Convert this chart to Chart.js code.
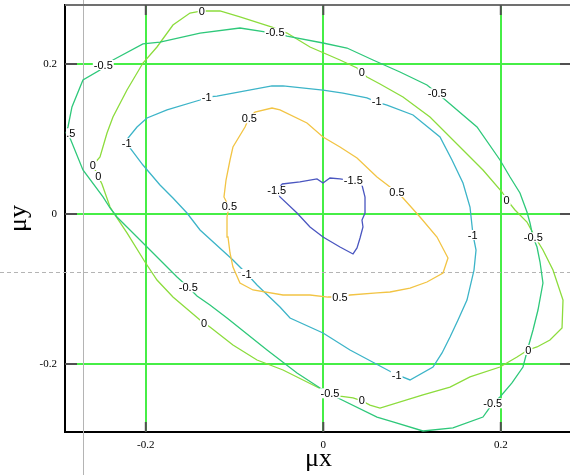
<!DOCTYPE html>
<html><head><meta charset="utf-8">
<style>
html,body{margin:0;padding:0;background:#fff;width:570px;height:475px;overflow:hidden}
#wrap{position:relative;width:574px;height:475px}
canvas{display:block}
</style>
<script src="https://cdn.jsdelivr.net/npm/chart.js@4.4.0/dist/chart.umd.min.js"></script>
</head><body><div id="wrap"><canvas id="c" width="574" height="475"></canvas></div>
<script>
// ---- tick values / labels ----
const xTicks = [-0.2, 0, 0.2];
const xTickLabels = ['-0.2', '0', '0.2'];
const yTicks = [-0.2, 0, 0.2];
const yTickLabels = ['-0.2', '0', '0.2'];
const xTitle = 'μx';
const yTitle = 'μy';

// ---- contour levels ----
const levels = ['-1.5', '0.5', '-1', '-0.5', '0'];

// level -1.5
const cM15X = [-0.0465,-0.0263,-0.0071,-0.0003,0.0075,0.0188,0.0335,0.0436,0.047,0.047,0.0436,0.0447,0.0414,0.038,0.0335,0.0188,-0.0003,-0.015,-0.0296,-0.0488,-0.0522,-0.0465];
const cM15Y = [0.040,0.0427,0.0467,0.0413,0.048,0.0467,0.044,0.0387,0.0227,0.0013,-0.008,-0.0173,-0.032,-0.0453,-0.0533,-0.044,-0.0307,-0.0173,0.0013,0.0227,0.0307,0.040];
// level 0.5
const c05X = [-0.0837,-0.077,-0.0578,-0.0488,-0.0184,-0.0003,0.0188,0.038,0.0605,0.0752,0.083,0.0898,0.109,0.1281,0.1405,0.1349,0.1168,0.0977,0.0752,0.0605,0.0301,0.0188,0.0053,-0.015,-0.0454,-0.0792,-0.0939,-0.1018,-0.1051,-0.1074,-0.1085,-0.1063,-0.1119,-0.1096,-0.1051,-0.1018,-0.0882,-0.0837];
const c05Y = [0.128,0.136,0.1413,0.1387,0.1213,0.1027,0.0893,0.0747,0.0493,0.036,0.0293,0.0213,-0.004,-0.0307,-0.0587,-0.0787,-0.0907,-0.0987,-0.104,-0.1053,-0.108,-0.1107,-0.1107,-0.108,-0.108,-0.1013,-0.092,-0.0707,-0.052,-0.0307,-0.004,0.0093,0.0227,0.0453,0.072,0.0893,0.116,0.128];
// level -1
const cM1X = [-0.131,-0.1198,-0.0578,-0.0454,-0.0003,0.0222,0.0492,0.0605,0.0718,0.1011,0.1315,0.145,0.1574,0.1653,0.1687,0.1721,0.1698,0.1619,0.1518,0.1428,0.1338,0.1236,0.0977,0.0808,0.0301,-0.0003,-0.0375,-0.0488,-0.0747,-0.086,-0.1018,-0.1389,-0.1536,-0.1694,-0.184,-0.2032,-0.2178,-0.2212,-0.22,-0.2099,-0.1986,-0.1761,-0.1389,-0.131];
const cM1Y = [0.156,0.1573,0.1707,0.1707,0.1653,0.1613,0.1547,0.1493,0.1453,0.132,0.1027,0.072,0.0413,0.0093,-0.028,-0.048,-0.0747,-0.1147,-0.1413,-0.164,-0.1853,-0.204,-0.2213,-0.2133,-0.1813,-0.1587,-0.1387,-0.124,-0.0947,-0.08,-0.0613,-0.0213,0.0013,0.0213,0.0387,0.0653,0.088,0.0947,0.1013,0.116,0.128,0.1387,0.152,0.156];
// level -0.5
const cM05X = [-0.2899,-0.2877,-0.2832,-0.2708,-0.2516,-0.2482,-0.237,-0.2032,-0.184,-0.1389,-0.0939,-0.0657,-0.0544,-0.0409,-0.0003,0.0267,0.056,0.0864,0.1168,0.1281,0.1349,0.1732,0.1991,0.2104,0.2216,0.2295,0.2329,0.2363,0.2408,0.2442,0.2475,0.2419,0.2363,0.2306,0.225,0.2126,0.1991,0.1912,0.1799,0.1461,0.1123,0.0785,0.0605,0.0166,0.0075,-0.0037,-0.0296,-0.0634,-0.1085,-0.1277,-0.1423,-0.1524,-0.1648,-0.1986,-0.2325,-0.2403,-0.2482,-0.2708,-0.2854,-0.2899];
const cM05Y = [0.1076,0.116,0.1427,0.1787,0.192,0.1987,0.2053,0.2267,0.2293,0.2413,0.248,0.2427,0.2413,0.2373,0.228,0.2213,0.2053,0.1893,0.172,0.1613,0.1547,0.116,0.072,0.0493,0.028,0.0027,-0.012,-0.0307,-0.044,-0.064,-0.092,-0.128,-0.1547,-0.1787,-0.204,-0.2253,-0.244,-0.252,-0.2707,-0.2853,-0.2893,-0.2773,-0.2707,-0.2453,-0.2387,-0.232,-0.212,-0.1813,-0.1387,-0.1213,-0.1093,-0.0973,-0.084,-0.044,-0.004,0.008,0.0227,0.0587,0.1013,0.1076];
// level 0
const c0X = [-0.1367,-0.1164,-0.0939,-0.0578,-0.0409,-0.015,0.0188,0.038,0.0436,0.0492,0.0639,0.0898,0.1202,0.1574,0.1799,0.2014,0.207,0.216,0.2295,0.2386,0.2475,0.2588,0.2701,0.269,0.2554,0.2408,0.2306,0.2183,0.1991,0.1653,0.1428,0.1123,0.0639,0.0526,0.0436,0.0335,0.0188,0.0075,-0.0071,-0.0454,-0.0747,-0.1018,-0.1277,-0.1344,-0.1389,-0.1694,-0.1874,-0.2009,-0.2212,-0.2347,-0.2403,-0.2494,-0.2539,-0.2595,-0.2516,-0.2437,-0.237,-0.2212,-0.2032,-0.1874,-0.1694,-0.1502,-0.1367];
const c0Y = [0.2707,0.2707,0.2627,0.2493,0.2413,0.2227,0.2053,0.1947,0.188,0.1827,0.1733,0.156,0.1293,0.0853,0.0587,0.0293,0.0187,0.0053,-0.0107,-0.0307,-0.048,-0.0747,-0.1147,-0.152,-0.168,-0.1773,-0.1813,-0.1907,-0.204,-0.2173,-0.2307,-0.2413,-0.2587,-0.2547,-0.2493,-0.2453,-0.2427,-0.2387,-0.2307,-0.208,-0.1947,-0.1747,-0.1507,-0.1453,-0.1413,-0.1107,-0.088,-0.064,-0.0253,-0.0013,0.0093,0.04,0.0507,0.0653,0.076,0.108,0.1293,0.1653,0.2013,0.2227,0.252,0.268,0.2707];

// ---- contour label positions ----
const lM15X = [-0.0525, 0.0338];
const lM15Y = [0.031, 0.0444];
const l05X = [-0.0834, 0.083, 0.0188, -0.1058];
const l05Y = [0.1276, 0.0293, -0.1107, 0.0097];
const lM1X = [-0.1314, 0.0602, 0.1683, 0.0827, -0.0863, -0.2215];
const lM1Y = [0.1556, 0.1497, -0.028, -0.2147, -0.08, 0.0943];
const lM05X = [-0.2899, -0.2479, -0.0544, 0.1284, 0.2366, 0.1909, 0.0075, -0.1521];
const lM05Y = [0.1076, 0.1987, 0.2417, 0.1609, -0.0311, -0.2524, -0.2391, -0.0977];
const l0X = [-0.137, 0.0433, 0.2066, 0.2311, 0.0433, -0.1344, -0.2535, -0.2598];
const l0Y = [0.2697, 0.1884, 0.0187, -0.1813, -0.2489, -0.1457, 0.0507, 0.0653];

// ---- cursor position ----
const cursorX = -0.2708;
const cursorY = -0.0777;

const colors = ['#4a56c0', '#f2c444', '#3cb4c8', '#2ec87a', '#8cdc3c'];
const contourX = [cM15X, c05X, cM1X, cM05X, c0X];
const contourY = [cM15Y, c05Y, cM1Y, cM05Y, c0Y];
const labelX = [lM15X, l05X, lM1X, lM05X, l0X];
const labelY = [lM15Y, l05Y, lM1Y, lM05Y, l0Y];

const datasets = levels.map((lv, i) => ({
  label: lv,
  data: contourX[i].map((x, j) => ({x: x, y: contourY[i][j]})),
  showLine: true,
  borderColor: colors[i],
  backgroundColor: colors[i],
  borderWidth: 1.3,
  pointRadius: 0,
  tension: 0,
  fill: false
}));

const gridGreen = 'rgb(70,238,70)';

const decor = {
  id: 'decor',
  beforeDatasetsDraw(chart) {
    const ctx = chart.ctx, xs = chart.scales.x, ys = chart.scales.y;
    const px = xs.getPixelForValue(cursorX), py = ys.getPixelForValue(cursorY);
    ctx.save();
    ctx.strokeStyle = '#b4b4b4';
    ctx.lineWidth = 1;
    ctx.beginPath();
    ctx.moveTo(Math.round(px) + 0.5, 0);
    ctx.lineTo(Math.round(px) + 0.5, chart.height);
    ctx.stroke();
    ctx.setLineDash([4, 3]);
    ctx.beginPath();
    ctx.moveTo(0, Math.round(py) + 0.5);
    ctx.lineTo(chart.width, Math.round(py) + 0.5);
    ctx.stroke();
    ctx.restore();
  },
  afterDatasetsDraw(chart) {
    const ctx = chart.ctx, xs = chart.scales.x, ys = chart.scales.y, a = chart.chartArea;
    ctx.save();
    ctx.beginPath();
    ctx.rect(a.left + 1, a.top, a.right - a.left, a.bottom - a.top);
    ctx.clip();
    ctx.font = '11px "Liberation Sans", Arial, sans-serif';
    ctx.textAlign = 'center';
    ctx.textBaseline = 'middle';
    levels.forEach((lv, i) => {
      labelX[i].forEach((lx, j) => {
        const px = xs.getPixelForValue(lx), py = ys.getPixelForValue(labelY[i][j]);
        const w = ctx.measureText(lv).width;
        ctx.fillStyle = '#fff';
        ctx.fillRect(px - w / 2 - 1, py - 5, w + 2, 10);
        ctx.fillStyle = '#000';
        ctx.fillText(lv, px, py + 0.5);
      });
    });
    ctx.restore();
    // frame: top & right borders
    ctx.save();
    ctx.strokeStyle = '#707070';
    ctx.lineWidth = 2;
    ctx.beginPath();
    ctx.moveTo(a.left, a.top);
    ctx.lineTo(a.right, a.top);
    ctx.lineTo(a.right, a.bottom);
    ctx.stroke();
    // inward tick marks
    ctx.strokeStyle = '#505050';
    ctx.lineWidth = 2;
    ctx.beginPath();
    xTicks.forEach(v => {
      const p = xs.getPixelForValue(v);
      ctx.moveTo(p, a.bottom); ctx.lineTo(p, a.bottom - 10);
      ctx.moveTo(p, a.top); ctx.lineTo(p, a.top + 10);
    });
    yTicks.forEach(v => {
      const p = ys.getPixelForValue(v);
      ctx.moveTo(a.left, p); ctx.lineTo(a.left + 12, p);
      ctx.moveTo(a.right, p); ctx.lineTo(a.right - 12, p);
    });
    ctx.stroke();
    ctx.restore();
  }
};

new Chart(document.getElementById('c'), {
  type: 'scatter',
  data: { datasets: datasets },
  options: {
    responsive: false,
    animation: false,
    devicePixelRatio: 1,
    layout: { padding: { top: 5, right: 2, left: 0, bottom: 0 } },
    plugins: { legend: { display: false }, tooltip: { enabled: false } },
    scales: {
      x: {
        type: 'linear', position: 'bottom',
        min: -0.29104, max: 0.28023,
        afterBuildTicks: s => { s.ticks = xTicks.map(v => ({ value: v })); },
        afterFit: s => { s.height = 43; s.paddingLeft = 0; s.paddingRight = 0; },
        ticks: {
          color: '#000', padding: 7, maxRotation: 0, autoSkip: false,
          font: { family: '"Liberation Serif", "Times New Roman", serif', size: 11 },
          callback: (v, i) => xTickLabels[i]
        },
        grid: { color: gridGreen, lineWidth: 2, drawTicks: false },
        border: { display: true, color: '#000', width: 2 },
        title: {
          display: true, text: xTitle, color: '#000',
          font: { family: '"Liberation Serif", "Times New Roman", serif', size: 26 },
          padding: { top: 0, bottom: 0.5 }
        }
      },
      y: {
        type: 'linear', position: 'left',
        min: -0.29067, max: 0.27867,
        afterBuildTicks: s => { s.ticks = yTicks.map(v => ({ value: v })); },
        afterFit: s => { s.width = 65; s.paddingTop = 0; s.paddingBottom = 0; },
        ticks: {
          color: '#000', padding: 8, autoSkip: false,
          font: { family: '"Liberation Serif", "Times New Roman", serif', size: 11 },
          callback: (v, i) => yTickLabels[i]
        },
        grid: { color: gridGreen, lineWidth: 2, drawTicks: false },
        border: { display: true, color: '#000', width: 2 },
        title: {
          display: true, text: yTitle, color: '#000',
          font: { family: '"Liberation Serif", "Times New Roman", serif', size: 26 },
          padding: { top: 4, bottom: 0 }
        }
      }
    }
  },
  plugins: [decor]
});
</script>
</body></html>
